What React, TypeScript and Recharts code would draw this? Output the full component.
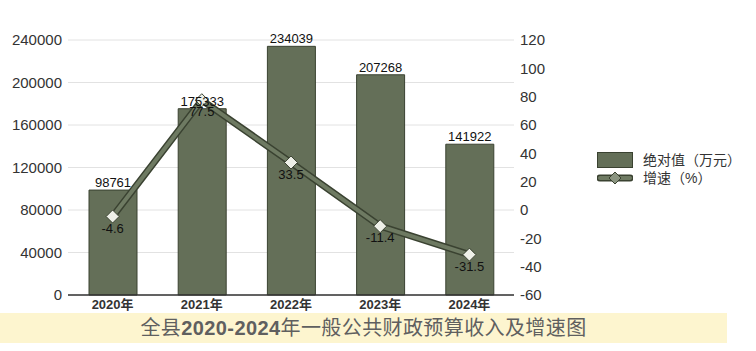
import { ComposedChart, Bar, Line, XAxis, YAxis, CartesianGrid, LabelList, Legend } from 'recharts';

const years = ['2020年', '2021年', '2022年', '2023年', '2024年'];
const absValues = [98761, 175333, 234039, 207268, 141922];
const growth = [-4.6, 77.5, 33.5, -11.4, -31.5];
const leftTicks = [0, 40000, 80000, 120000, 160000, 200000, 240000];
const rightTicks = [-60, -40, -20, 0, 20, 40, 60, 80, 100, 120];

const data = years.map((name, i) => ({ name, abs: absValues[i], rate: growth[i] }));

const BAR = '#646f58';
const DARK = '#3a4231';
const FONT = '"Liberation Sans", Arial, "Noto Sans CJK SC", sans-serif';

const Diamond = (props: any) => {
  const { cx, cy } = props;
  if (cx == null || cy == null) return null;
  const r = 6.5;
  return (
    <path
      d={`M${cx},${cy - r} L${cx + r},${cy} L${cx},${cy + r} L${cx - r},${cy} Z`}
      fill="#eef0e8"
      stroke={DARK}
      strokeWidth={1}
    />
  );
};

const LegendContent = () => (
  <div style={{ fontFamily: FONT, fontSize: 14, color: '#333', lineHeight: '18px' }}>
    <div style={{ display: 'flex', alignItems: 'center', height: 18 }}>
      <svg width={36} height={16} style={{ marginRight: 10 }}>
        <rect x={0.5} y={0.5} width={35} height={15} fill={BAR} stroke={DARK} />
      </svg>
      <span>绝对值（万元）</span>
    </div>
    <div style={{ display: 'flex', alignItems: 'center', height: 18 }}>
      <svg width={36} height={14} style={{ marginRight: 10 }}>
        <line x1={3} y1={7} x2={33} y2={7} stroke={DARK} strokeWidth={7} strokeLinecap="round" />
        <line x1={3} y1={7} x2={33} y2={7} stroke="#6e7a62" strokeWidth={4} strokeLinecap="round" />
        <path d="M18,1 L24,7 L18,13 L12,7 Z" fill="#8a9480" stroke={DARK} />
      </svg>
      <span>增速（%）</span>
    </div>
  </div>
);

export default function App() {
  return (
    <div style={{ position: 'absolute', left: 0, top: 0, width: 756, height: 351, background: '#fff', fontFamily: FONT }}>
      <ComposedChart
        width={756}
        height={315}
        data={data}
        margin={{ top: 40, right: 202, left: 8, bottom: 0 }}
        barSize={48}
      >
        <CartesianGrid yAxisId="left" vertical={false} stroke="#e2e2e2" />
        <XAxis
          dataKey="name"
          height={20}
          tickLine={false}
          axisLine={{ stroke: '#333', strokeWidth: 1.5 }}
          tick={{ fill: '#333', fontSize: 13, fontWeight: 'bold', fontFamily: FONT }}
          dy={-3}
          interval={0}
        />
        <YAxis
          yAxisId="left"
          width={60}
          domain={[0, 240000]}
          ticks={leftTicks}
          axisLine={false}
          tickLine={false}
          tick={{ fill: '#333', fontSize: 15, fontFamily: FONT }}
          tickMargin={0}
        />
        <YAxis
          yAxisId="right"
          orientation="right"
          width={40}
          domain={[-60, 120]}
          ticks={rightTicks}
          axisLine={false}
          tickLine={false}
          tick={{ fill: '#333', fontSize: 15, fontFamily: FONT }}
          tickMargin={0}
        />
        <Bar yAxisId="left" dataKey="abs" name="绝对值（万元）" fill={BAR} stroke={DARK} strokeWidth={1} isAnimationActive={false}>
          <LabelList dataKey="abs" position="top" offset={3} fill="#111" fontSize={13} fontFamily={FONT} />
        </Bar>
        <Line
          yAxisId="right"
          dataKey="rate"
          type="linear"
          stroke={DARK}
          strokeWidth={7}
          dot={false}
          activeDot={false}
          legendType="none"
          isAnimationActive={false}
        />
        <Line
          yAxisId="right"
          dataKey="rate"
          name="增速（%）"
          type="linear"
          stroke="#6e7a62"
          strokeWidth={4}
          dot={<Diamond />}
          activeDot={false}
          isAnimationActive={false}
        >
          <LabelList dataKey="rate" position="bottom" offset={7} fill="#111" fontSize={13} fontFamily={FONT} />
        </Line>
        <Legend
          layout="vertical"
          align="center"
          verticalAlign="middle"
          content={<LegendContent />}
          wrapperStyle={{ position: 'absolute', left: 597, top: 151, width: 160 }}
        />
      </ComposedChart>
      <div
        style={{
          position: 'absolute',
          left: 0,
          top: 313,
          width: 727,
          height: 30,
          background: '#fdf5cf',
          color: '#5f5f5f',
          fontSize: 20,
          letterSpacing: 0.4,
          lineHeight: '30px',
          textAlign: 'center',
          fontFamily: FONT,
        }}
      >
        全县<b>2020-2024</b>年一般公共财政预算收入及增速图
      </div>
    </div>
  );
}
